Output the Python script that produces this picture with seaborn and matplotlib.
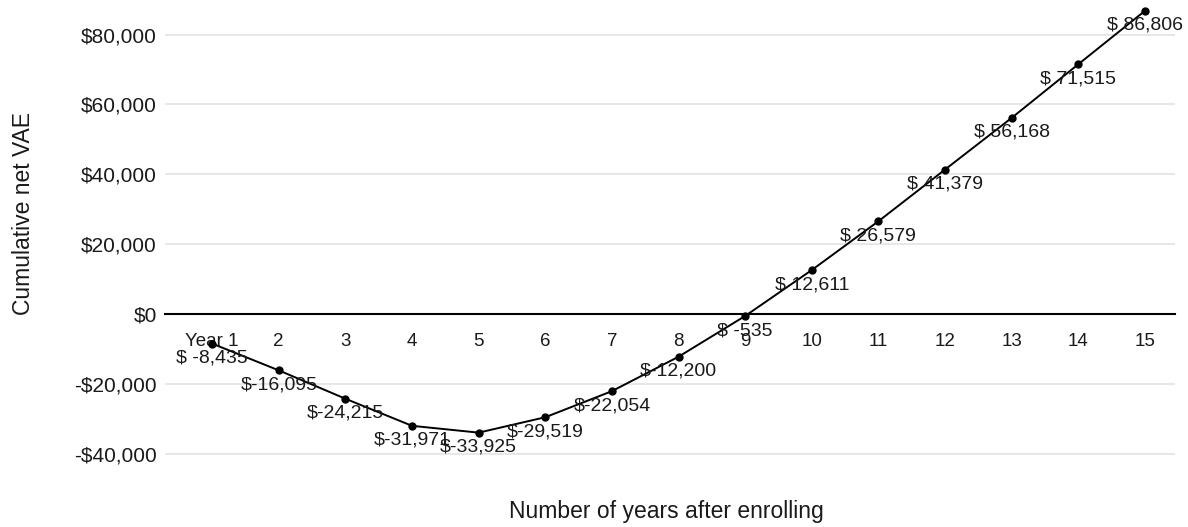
import matplotlib
matplotlib.use("Agg")
import matplotlib.pyplot as plt
import matplotlib.ticker as mticker
import pandas as pd
import seaborn as sns

# Cumulative net value-added earnings by year after enrolling
years = list(range(1, 16))
year_labels = ["Year 1"] + [str(y) for y in range(2, 16)]
cumulative_vae = [-8435, -16095, -24215, -31971, -33925, -29519, -22054,
                  -12200, -535, 12611, 26579, 41379, 56168, 71515, 86806]
y_ticks = [-40000, -20000, 0, 20000, 40000, 60000, 80000]

df = pd.DataFrame({"year": years, "vae": cumulative_vae})

sns.set_theme(style="whitegrid")
plt.rcParams["font.family"] = ["Liberation Sans", "DejaVu Sans"]

fig = plt.figure(figsize=(11.88, 5.27), dpi=100)
ax = fig.add_axes([0.139, 0.099, 0.850, 0.895])

sns.lineplot(data=df, x="year", y="vae", ax=ax, color="black", linewidth=1.4,
             marker="o", markersize=6, markeredgewidth=0, markerfacecolor="black")

ax.set_xlim(0.295, 15.45)
ax.set_ylim(-46000, 89000)
ax.set_yticks(y_ticks)
ax.yaxis.set_major_formatter(mticker.FuncFormatter(
    lambda v, _: f"-${abs(v):,.0f}" if v < 0 else f"${v:,.0f}"))
ax.set_xticks(years)
ax.set_xticklabels(year_labels)

ax.grid(axis="y", color="#e3e3e3", linewidth=1.2)
ax.grid(axis="x", visible=False)
for side in ["top", "right", "left"]:
    ax.spines[side].set_visible(False)
ax.spines["bottom"].set_position(("data", 0))
ax.spines["bottom"].set_color("black")
ax.spines["bottom"].set_linewidth(1.5)
ax.spines["bottom"].set_zorder(1)

ax.tick_params(axis="x", length=0, pad=13.5, labelsize=13.5, colors="#1a1a1a")
ax.tick_params(axis="y", length=0, pad=6, labelsize=15, colors="#1a1a1a")

# Data labels below each point
for x, v in zip(years, cumulative_vae):
    num = f"{v:,}"
    label = ("$ " if len(num) < 7 else "$") + num
    ax.annotate(label, (x, v), xytext=(0, -10.5), textcoords="offset points",
                ha="center", va="center", fontsize=14, color="#1a1a1a")

ax.set_xlabel("")
ax.set_ylabel("")
fig.text(0.020, 0.594, "Cumulative net VAE", rotation=90, ha="center",
         va="center", fontsize=16.5, color="#1a1a1a")
fig.text(0.561, 0.030, "Number of years after enrolling", ha="center",
         va="center", fontsize=16.5, color="#1a1a1a")

fig.savefig("out.png", dpi=100, facecolor="white")
